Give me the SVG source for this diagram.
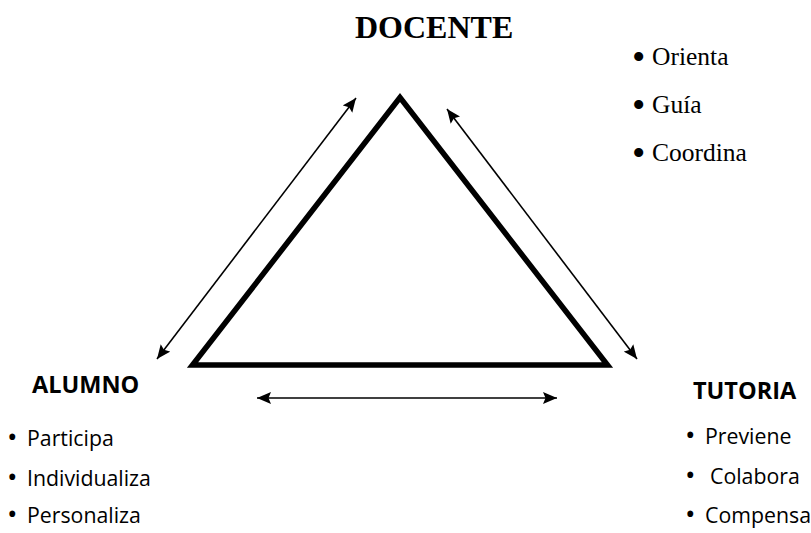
<svg xmlns="http://www.w3.org/2000/svg" width="811" height="533" viewBox="0 0 811 533">
<style>
.serif{font-family:"Liberation Serif","Times New Roman",serif;fill:#000}
.head-serif{font-size:32px;font-weight:bold}
.item-serif{font-size:25.5px}
.sans{font-family:"Open Sans","Liberation Sans",Arial,sans-serif;fill:#000}
.head-sans{font-size:23.5px;font-weight:bold}
.item-sans{font-size:21.3px}
.bs{font-size:38px}
.bn{font-size:28px}
.conn{stroke:#000;stroke-width:1.6;fill:none;marker-start:url(#ah);marker-end:url(#ah)}
</style>
<defs>
<marker id="ah" markerUnits="userSpaceOnUse" markerWidth="15" markerHeight="13" refX="14" refY="6" orient="auto-start-reverse" viewBox="0 0 15 12">
<path d="M0,0 L14,6 L0,12 L2.5,6 z" fill="#000"/>
</marker>
</defs>
<rect width="811" height="533" fill="#fff"/>
<g id="triangle">
<polygon points="400,97.5 192.5,365 607.5,365" fill="none" stroke="#000" stroke-width="5.5" stroke-linejoin="miter" stroke-miterlimit="10"/>
</g>
<g id="connectors">
<line class="conn" x1="157" y1="359" x2="356" y2="98"/>
<line class="conn" x1="447" y1="109" x2="637" y2="359"/>
<line class="conn" x1="257" y1="398" x2="557" y2="398"/>
</g>
<g id="node-docente">
<text class="serif head-serif" x="355" y="38">DOCENTE</text>
<text class="serif item-serif" y="65"><tspan class="bs" x="632" dy="5">•</tspan><tspan x="652" dy="-5">Orienta</tspan></text>
<text class="serif item-serif" y="113"><tspan class="bs" x="632" dy="5">•</tspan><tspan x="652" dy="-5">Guía</tspan></text>
<text class="serif item-serif" y="161"><tspan class="bs" x="632" dy="5">•</tspan><tspan x="652" dy="-5">Coordina</tspan></text>
</g>
<g id="node-alumno">
<text class="sans head-sans" x="32" y="393">ALUMNO</text>
<text class="sans item-sans" y="446"><tspan class="bn" x="7" dy="1">•</tspan><tspan x="27" dy="-1">Participa</tspan></text>
<text class="sans item-sans" y="486"><tspan class="bn" x="7" dy="1">•</tspan><tspan x="27" dy="-1">Individualiza</tspan></text>
<text class="sans item-sans" y="523"><tspan class="bn" x="7" dy="1">•</tspan><tspan x="27" dy="-1">Personaliza</tspan></text>
</g>
<g id="node-tutoria">
<text class="sans head-sans" x="693" y="399">TUTORIA</text>
<text class="sans item-sans" y="444"><tspan class="bn" x="685" dy="1">•</tspan><tspan x="705" dy="-1">Previene</tspan></text>
<text class="sans item-sans" y="484"><tspan class="bn" x="685" dy="1">•</tspan><tspan x="710" dy="-1">Colabora</tspan></text>
<text class="sans item-sans" y="523"><tspan class="bn" x="685" dy="1">•</tspan><tspan x="705" dy="-1">Compensa</tspan></text>
</g>
</svg>
